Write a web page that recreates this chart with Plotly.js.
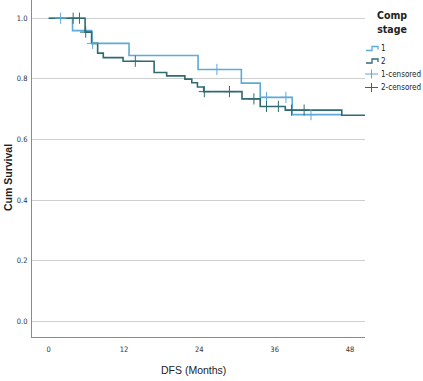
<!DOCTYPE html>
<html><head><meta charset="utf-8">
<script src="https://cdn.plot.ly/plotly-3.0.1.min.js"></script>
<style>html,body{margin:0;padding:0;background:#fff}#c{width:423px;height:381px}</style>
</head><body><div id="c"></div>
<script>
// Step times (months) and cumulative survival levels
const g1Times = [0, 3.8, 6.85, 12.8, 23.8, 30.7, 33.7, 38.8, 46.7];
const g1Surv  = [1.0, 0.959, 0.917, 0.877, 0.831, 0.786, 0.739, 0.682, 0.682];
const g2Times = [0, 5.8, 6.85, 7.8, 8.7, 11.85, 16.8, 18.8, 21.7, 22.8, 23.7, 24.7, 30.8, 33.7, 37.7, 46.7, 50.4];
const g2Surv  = [1.0, 0.954, 0.917, 0.885, 0.870, 0.858, 0.821, 0.810, 0.799, 0.787, 0.773, 0.758, 0.734, 0.709, 0.697, 0.680, 0.680];
// Censored observations
const c1Times = [1.9, 7.0, 26.8, 34.7, 37.8, 41.8];
const c1Surv  = [1.0, 0.917, 0.831, 0.739, 0.739, 0.682];
const c2Times = [3.9, 4.9, 5.9, 13.8, 24.8, 28.8, 32.7, 34.7, 36.6, 38.7, 40.7];
const c2Surv  = [1.0, 1.0, 0.954, 0.858, 0.758, 0.758, 0.734, 0.709, 0.709, 0.697, 0.697];
const xTicks = [0, 12, 24, 36, 48];
const yTicks = [0.0, 0.2, 0.4, 0.6, 0.8, 1.0];
const seriesNames = ['1', '2', '1-censored', '2-censored'];
const legendTitle = 'Comp<br>stage';

const col1 = '#5eaad8', col2 = '#2f6b6f';
const narrow = '"DejaVu Sans Condensed", "Liberation Sans Narrow", "Liberation Sans", sans-serif';
const sans = '"Liberation Sans", Arial, sans-serif';
const traces = [
  {x: g1Times, y: g1Surv, name: seriesNames[0], mode: 'lines', line: {shape: 'hv', color: col1, width: 1.6}},
  {x: g2Times, y: g2Surv, name: seriesNames[1], mode: 'lines', line: {shape: 'hv', color: col2, width: 1.6}},
  {x: c1Times, y: c1Surv, name: seriesNames[2], mode: 'markers',
   marker: {symbol: 'cross-thin-open', size: 8, color: col1, line: {color: col1, width: 1}}},
  {x: c2Times, y: c2Surv, name: seriesNames[3], mode: 'markers',
   marker: {symbol: 'cross-thin-open', size: 8, color: col2, line: {color: col2, width: 1}}}
];

// pixel -> paper helpers for the hand-made legend
const L = 32, T = 0, W = 333, H = 337;
const px = v => (v - L) / W, py = v => (T + H - v) / H;
const shapes = [], annotations = [];
function stepIcon(y, color) {
  shapes.push({type: 'path', xref: 'paper', yref: 'paper',
    path: `M${px(366)},${py(y + 2)} L${px(372)},${py(y + 2)} L${px(372)},${py(y - 2)} L${px(378)},${py(y - 2)} L${px(378)},${py(y + 1)}`,
    line: {color: color, width: 1.3}});
}
function crossIcon(y, color) {
  shapes.push({type: 'line', xref: 'paper', yref: 'paper', x0: px(365), x1: px(378), y0: py(y), y1: py(y), line: {color: color, width: 1}});
  shapes.push({type: 'line', xref: 'paper', yref: 'paper', x0: px(371.5), x1: px(371.5), y0: py(y - 4.5), y1: py(y + 4.5), line: {color: color, width: 1}});
}
const legY = [48.5, 61, 74, 87.5];
stepIcon(legY[0], col1); stepIcon(legY[1], col2);
crossIcon(legY[2], col1); crossIcon(legY[3], col2);
seriesNames.forEach((n, i) => annotations.push({text: n, xref: 'paper', yref: 'paper', x: px(379), y: py(legY[i]),
  xanchor: 'left', yanchor: 'middle', showarrow: false, font: {family: narrow, size: 8, color: '#222'}}));
annotations.push({text: '<b>' + legendTitle + '</b>', xref: 'paper', yref: 'paper', x: px(392), y: py(7),
  xanchor: 'center', yanchor: 'top', showarrow: false, font: {family: narrow, size: 10.5, color: '#222'}});
annotations.push({text: '<b>Cum Survival</b>', xref: 'paper', yref: 'paper', x: px(8), y: py(178), textangle: -90,
  xanchor: 'center', yanchor: 'middle', showarrow: false, font: {family: sans, size: 10.5, color: '#222'}});
annotations.push({text: 'DFS (Months)', xref: 'paper', yref: 'paper', x: px(193), y: py(370),
  xanchor: 'center', yanchor: 'middle', showarrow: false, font: {family: sans, size: 10.5, color: '#222'}});

const layout = {
  width: 423, height: 381,
  margin: {l: L, r: 423 - L - W, t: T, b: 381 - H, autoexpand: false},
  paper_bgcolor: '#fff', plot_bgcolor: '#fff',
  font: {family: narrow, size: 7.5, color: '#333'},
  showlegend: false,
  xaxis: {range: [-2.66, 50.4], tickvals: xTicks, ticktext: xTicks.map(String), showgrid: false,
          showline: true, linecolor: '#8a8a8a', linewidth: 1, zeroline: false, ticks: 'outside', ticklen: 5, tickcolor: 'rgba(0,0,0,0)',
          tickfont: {family: narrow, size: 7.5, color: '#333'}},
  yaxis: {range: [-0.051, 1.06], tickvals: yTicks, ticktext: yTicks.map(v => v.toFixed(1)), showgrid: true,
          gridcolor: '#cfcfcf', gridwidth: 1, showline: true, linecolor: '#8a8a8a', linewidth: 1, zeroline: false,
          ticks: 'outside', ticklen: 2, tickcolor: 'rgba(0,0,0,0)', tickfont: {family: narrow, size: 7.5, color: '#333'}},
  shapes: shapes, annotations: annotations
};
Plotly.newPlot('c', traces, layout, {displayModeBar: false, staticPlot: true});
</script></body></html>
